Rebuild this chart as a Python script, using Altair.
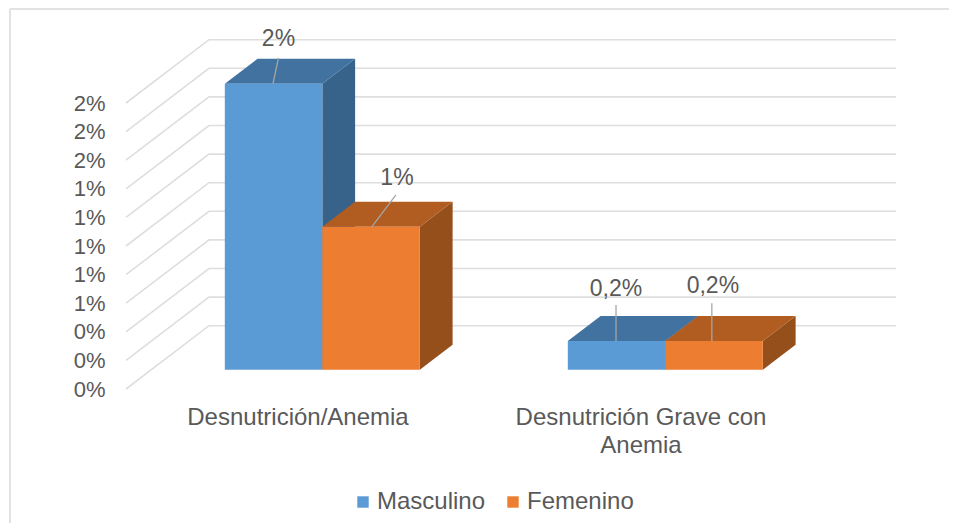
import altair as alt
import pandas as pd

# ---- values ----
categories = ["Desnutrición/Anemia", "Desnutrición Grave con Anemia"]
series = ["Masculino", "Femenino"]
masculino = [2.0, 0.2]
femenino = [1.0, 0.2]
bar_tops = [masculino[0], femenino[0], masculino[1], femenino[1]]
value_labels = ["2%", "1%", "0,2%", "0,2%"]
ticks = [0, 0.2, 0.4, 0.6, 0.8, 1.0, 1.2, 1.4, 1.6, 1.8, 2.0]

# where each data label and its leader line sit (category units, percent)
label_x = [0.4446, 0.79, 1.4286, 1.711]
label_y = [2.448, 1.476, 0.70, 0.72]
leader_x = [0.4446, 0.787, 1.4286, 1.708]
leader_y = [2.315, 1.357, 0.587, 0.60]
leader_base_x = [0.4286, 0.717, 1.4286, 1.708]

front_colors = ["#5B9BD5", "#ED7D31"]
top_colors = ["#42729F", "#B15C20"]
side_colors = ["#37628A", "#954F1A"]
GRID = "#DEDEDE"
TEXT = "#595959"
FONT = "Liberation Sans"
FS = 22

# oblique projection of the 3D box: depth z in [0, 1]
DX, DY = 83 / 343, 63.3 / 143
Z_FRONT, Z_BACK = 0.305, 0.70
BAR_W = 97.5 / 343
XMAX, YMAX = 770 / 343, 349 / 143


def px(x, z):
    return x + DX * z


def py(v, z):
    return v + DY * z


x_scale = alt.Scale(domain=[0, XMAX], nice=False, zero=False)
y_scale = alt.Scale(domain=[0, YMAX], nice=False, zero=False)
x_axis = alt.Axis(
    title=None,
    values=[0.5, 1.5],
    domain=False,
    ticks=False,
    grid=False,
    labelFont=FONT,
    labelFontSize=FS + 2,
    labelColor=TEXT,
    labelPadding=16,
    labelLineHeight=28,
    labelLimit=400,
    labelOverlap=False,
    labelFlush=False,
    labelBound=False,
    labelExpr=(
        "datum.value < 1 ? '" + categories[0] + "' : "
        "['Desnutrición Grave con', 'Anemia']"
    ),
)
y_axis = alt.Axis(
    title=None,
    values=ticks,
    domain=False,
    ticks=False,
    grid=False,
    labelFont=FONT,
    labelFontSize=FS,
    labelColor=TEXT,
    labelPadding=21,
    labelOverlap=False,
    labelFlush=False,
    labelBound=False,
    labelExpr="round(datum.value) + '%'",
)
X = alt.X("x:Q", scale=x_scale, axis=x_axis)
Y = alt.Y("y:Q", scale=y_scale, axis=y_axis)

# walls
wall_rows = []
for t in ticks:
    wall_rows += [
        {"t": t, "x": px(0, 0), "y": py(t, 0)},
        {"t": t, "x": px(0, 1), "y": py(t, 1)},
        {"t": t, "x": XMAX, "y": py(t, 1)},
    ]
walls = (
    alt.Chart(pd.DataFrame(wall_rows))
    .mark_line(color=GRID, strokeWidth=1.6)
    .encode(x=X, y=Y, detail="t:Q", order="x:Q")
)

legend = alt.Legend(
    title=None,
    orient="none",
    legendX=225,
    legendY=450,
    direction="horizontal",
    symbolType="square",
    symbolSize=130,
    symbolStrokeWidth=0,
    labelFont=FONT,
    labelFontSize=FS + 2,
    labelColor=TEXT,
    labelOffset=2,
    columnPadding=15,
)

layers = [walls]
for s, (name, vals) in enumerate(zip(series, [masculino, femenino])):
    side, top, front = [], [], []
    for c, v in enumerate(vals):
        x0 = c + 0.5 - 98 / 343 + s * BAR_W
        x1 = x0 + BAR_W
        for z in (Z_FRONT, Z_BACK):
            side.append({"b": c, "x": px(x1, z), "y": py(0, z), "y2": py(v, z)})
            top.append({"b": c, "y": py(v, z), "x": px(x0, z), "x2": px(x1, z)})
        front.append(
            {
                "series": name,
                "x": px(x0, Z_FRONT),
                "x2": px(x1, Z_FRONT),
                "y": py(0, Z_FRONT),
                "y2": py(v, Z_FRONT),
            }
        )
    layers.append(
        alt.Chart(pd.DataFrame(side))
        .mark_area(color=side_colors[s], orient="vertical")
        .encode(x=X, y=Y, y2="y2:Q", detail="b:Q")
    )
    layers.append(
        alt.Chart(pd.DataFrame(top))
        .mark_area(color=top_colors[s], orient="horizontal")
        .encode(x=X, x2="x2:Q", y=Y, detail="b:Q")
    )
    layers.append(
        alt.Chart(pd.DataFrame(front))
        .mark_rect()
        .encode(
            x=X,
            x2="x2:Q",
            y=Y,
            y2="y2:Q",
            color=alt.Color(
                "series:N",
                scale=alt.Scale(domain=series, range=front_colors),
                legend=legend,
            ),
        )
    )

# data labels and leader lines
leader_rows, label_rows = [], []
for i, v in enumerate(bar_tops):
    leader_rows += [
        {"i": i, "k": 0, "x": leader_base_x[i], "y": py(v, Z_FRONT)},
        {"i": i, "k": 1, "x": leader_x[i], "y": leader_y[i]},
    ]
    label_rows.append({"t": value_labels[i], "x": label_x[i], "y": label_y[i]})

layers.append(
    alt.Chart(pd.DataFrame(leader_rows))
    .mark_line(color="#A6A6A6", strokeWidth=1.3)
    .encode(x=X, y=Y, detail="i:Q", order="k:Q")
)
layers.append(
    alt.Chart(pd.DataFrame(label_rows))
    .mark_text(font=FONT, fontSize=FS + 1, color=TEXT, baseline="middle", align="center")
    .encode(x=X, y=Y, text="t:N")
)

# frame of the picture
layers.append(
    alt.Chart(pd.DataFrame({"f": [0]}))
    .mark_rule(color="#E2E2E2", strokeWidth=2)
    .encode(x=alt.value(-116), y=alt.value(-31), y2=alt.value(483))
)
layers.append(
    alt.Chart(pd.DataFrame({"f": [0]}))
    .mark_rule(color="#E2E2E2", strokeWidth=2)
    .encode(x=alt.value(-116), x2=alt.value(823), y=alt.value(-31))
)

chart = (
    alt.layer(*layers)
    .resolve_scale(x="shared", y="shared")
    .properties(
        width=770,
        height=349,
        padding={"left": 118, "top": 32, "right": 53, "bottom": 134},
        autosize=alt.AutoSizeParams(type="none"),
        background="white",
    )
    .configure_view(stroke=None)
)

chart.save("out.html", embed_options={"renderer": "svg", "actions": False})
